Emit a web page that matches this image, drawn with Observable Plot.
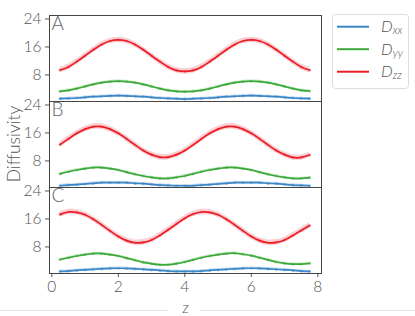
<!DOCTYPE html>
<html>
<head>
<meta charset="utf-8">
<script src="https://cdn.jsdelivr.net/npm/d3@7"></script>
<script src="https://cdn.jsdelivr.net/npm/@observablehq/plot@0.6"></script>
<style>
  html, body { margin: 0; padding: 0; background: #fff; }
  #wrap { position: relative; width: 415px; height: 316px; overflow: hidden; font-family: Lato, sans-serif; }
  #ylab { position: absolute; left: 13px; top: 144px; transform: translate(-50%, -50%) rotate(-90deg); font-size: 17.5px; color: #555; white-space: nowrap; font-weight: 300; }
  #legend { position: absolute; left: 332px; top: 14px; }
  .gline { position: absolute; top: 310px; height: 1px; background: #e4e4e4; }
</style>
</head>
<body>
<div id="wrap">
  <div id="chart"></div>
  <div id="ylab">Diffusivity</div>
  <div id="legend"></div>
  <div class="gline" style="left:0;width:168px"></div>
  <div class="gline" style="left:200px;width:215px"></div>
</div>
<script>
const z = [0.25,0.5,0.75,1.0,1.25,1.5,1.75,2.0,2.25,2.5,2.75,3.0,3.25,3.5,3.75,4.0,
           4.25,4.5,4.75,5.0,5.25,5.5,5.75,6.0,6.25,6.5,6.75,7.0,7.25,7.5,7.75];
const panels = ["A", "B", "C"];
const seriesNames = ["Dxx", "Dyy", "Dzz"];
const seriesColors = ["#3a86c6", "#3aa83a", "#ee1c24"];
const bandColors = ["#9cc4e6", "#a6dca0", "#f5a3ab"];

const dxxA = [1.2,1.3,1.4,1.6,1.8,1.9,2.0,2.1,2.0,1.9,1.8,1.6,1.4,1.3,1.2,1.1,
              1.2,1.3,1.4,1.6,1.8,1.9,2.0,2.1,2.0,1.9,1.8,1.6,1.4,1.3,1.2];
const dyyA = [3.3,3.6,4.1,4.7,5.3,5.8,6.1,6.2,6.1,5.8,5.3,4.7,4.1,3.6,3.3,3.2,
              3.3,3.6,4.1,4.7,5.3,5.8,6.1,6.2,6.1,5.8,5.3,4.7,4.1,3.6,3.4];
const dzzA = [9.4,10.3,11.8,13.5,15.2,16.7,17.7,18.0,17.7,16.7,15.2,13.5,11.8,10.3,9.3,9.0,
              9.3,10.3,11.8,13.5,15.2,16.7,17.7,18.0,17.7,16.7,15.2,13.5,11.8,10.3,9.4];

const dxxB = [0.9,1.1,1.2,1.4,1.6,1.8,1.8,1.8,1.8,1.6,1.5,1.3,1.1,1.0,0.9,0.9,
              0.9,1.1,1.2,1.4,1.6,1.8,1.8,1.8,1.8,1.6,1.5,1.3,1.1,1.0,0.9];
const dyyB = [4.3,4.9,5.4,5.8,6.1,6.1,5.8,5.4,4.8,4.2,3.7,3.3,3.0,3.0,3.3,3.7,
              4.3,4.9,5.4,5.8,6.1,6.1,5.8,5.4,4.8,4.2,3.7,3.3,3.0,3.0,3.2];
const dzzB = [12.7,14.3,15.9,17.1,17.8,17.8,17.1,15.9,14.3,12.6,11.0,9.8,9.1,9.1,9.8,11.0,
              12.6,14.3,15.9,17.1,17.8,17.8,17.1,15.9,14.3,12.6,11.0,9.8,9.0,9.0,9.7];

const dxxC = [1.0,1.1,1.3,1.45,1.6,1.75,1.85,1.9,1.85,1.75,1.6,1.45,1.3,1.1,1.0,1.0,
              1.0,1.1,1.3,1.45,1.6,1.75,1.85,1.9,1.85,1.75,1.6,1.45,1.3,1.1,1.0];
const dyyC = [4.4,4.9,5.4,5.8,6.1,6.1,5.8,5.4,4.8,4.2,3.6,3.2,2.9,2.9,3.2,3.7,
              4.3,4.9,5.4,5.8,6.1,6.2,5.9,5.5,4.9,4.3,3.7,3.3,3.1,3.1,3.3];
const dzzC = [17.3,18.0,17.9,17.2,15.9,14.3,12.6,11.0,9.8,9.2,9.3,10.0,11.3,12.9,14.6,16.2,
              17.4,18.0,17.9,17.2,15.9,14.3,12.6,11.0,9.8,9.2,9.3,10.0,11.3,12.7,14.1];

const yTicks = [8, 16, 24];
const xTicks = [0, 2, 4, 6, 8];
const bandHalf = {Dxx: 0.35, Dyy: 0.35, Dzz: 0.8};

const table = {
  A: {Dxx: dxxA, Dyy: dyyA, Dzz: dzzA},
  B: {Dxx: dxxB, Dyy: dyyB, Dzz: dzzB},
  C: {Dxx: dxxC, Dyy: dyyC, Dzz: dzzC}
};
const rows = [];
for (const p of panels) for (const s of seriesNames) table[p][s].forEach((v, i) => rows.push({panel: p, series: s, z: z[i], v}));

const bandScale = d3.scaleOrdinal(seriesNames, bandColors);

const chart = Plot.plot({
  width: 415,
  height: 316,
  marginTop: 14,
  marginBottom: 42,
  marginLeft: 49,
  marginRight: 94,
  style: {fontFamily: "Lato, sans-serif", fontSize: "15.5px", color: "#555", fontWeight: 300, background: "white"},
  x: {domain: [-0.07, 8.11], ticks: xTicks, tickSize: 4, tickPadding: 3, label: "z", labelAnchor: "center", labelArrow: "none", labelOffset: 39},
  y: {domain: [0.4, 25.0], ticks: yTicks, tickSize: 4, tickPadding: 4, label: null},
  fy: {domain: panels, axis: null, padding: 0},
  color: {domain: seriesNames, range: seriesColors},
  marks: [
    Plot.areaY(rows, {x: "z", y1: d => d.v - bandHalf[d.series], y2: d => d.v + bandHalf[d.series], z: "series", fy: "panel", fill: d => bandScale(d.series), fillOpacity: 0.5, curve: "natural"}),
    Plot.dot(rows, {x: "z", y: "v", fy: "panel", r: 1.6, fill: d => bandScale(d.series), stroke: null}),
    Plot.line(rows, {x: "z", y: "v", z: "series", fy: "panel", stroke: "series", strokeWidth: 1.7, curve: "natural"}),
    Plot.frame({stroke: "#444", strokeWidth: 1}),
    Plot.text(panels, {fy: d => d, text: d => d, frameAnchor: "top-left", dx: 2, dy: 1, fontSize: 19, fill: "#666", lineAnchor: "top"})
  ]
});
document.getElementById("chart").appendChild(chart);

// legend
const lg = d3.select("#legend").append("svg").attr("width", 78).attr("height", 76);
lg.append("rect").attr("x", 0.5).attr("y", 0.5).attr("width", 76).attr("height", 74).attr("rx", 3)
  .attr("fill", "white").attr("stroke", "#dddddd");
const subs = ["xx", "yy", "zz"];
seriesNames.forEach((s, i) => {
  const cy = 12.7 + i * 22.5;
  lg.append("line").attr("x1", 5).attr("x2", 37).attr("y1", cy).attr("y2", cy)
    .attr("stroke", seriesColors[i]).attr("stroke-width", 2);
  const t = lg.append("text").attr("x", 49).attr("y", cy + 5.5)
    .attr("font-family", "Lato, sans-serif").attr("font-style", "italic").attr("font-weight", 300)
    .attr("fill", "#555").attr("font-size", 16.5);
  t.append("tspan").text("D");
  t.append("tspan").attr("font-size", 11).attr("dy", 2).text(subs[i]);
});
</script>
</body>
</html>
